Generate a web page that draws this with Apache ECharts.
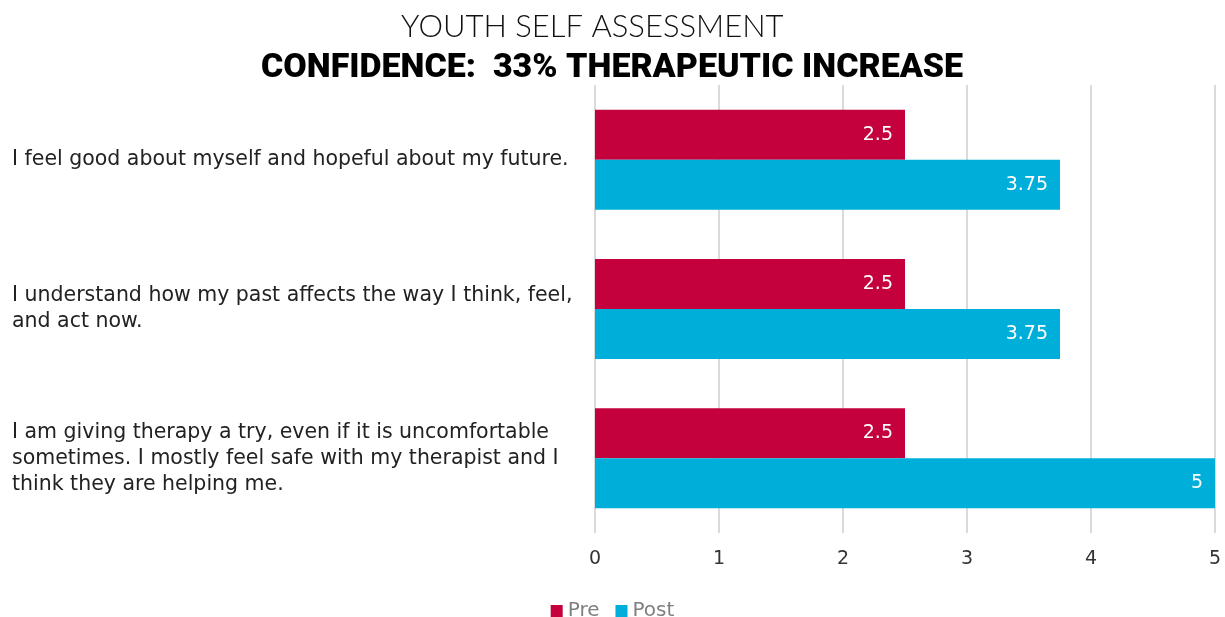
<!DOCTYPE html>
<html>
<head>
<meta charset="utf-8">
<script src="https://cdn.jsdelivr.net/npm/echarts@6/dist/echarts.min.js"></script>
<style>
  html, body { margin: 0; padding: 0; background: #fff; }
  #chart { width: 1225px; height: 617px; }
</style>
</head>
<body>
<div id="chart"></div>
<script>
// statements, top to bottom
const categories = [
  "I feel good about myself and hopeful about my future.",
  "I understand how my past affects the way I think, feel,\nand act now.",
  "I am giving therapy a try, even if it is uncomfortable\nsometimes. I mostly feel safe with my therapist and I\nthink they are helping me."
];
const preValues = [2.5, 2.5, 2.5];
const postValues = [3.75, 3.75, 5];
const xTicks = [0, 1, 2, 3, 4, 5];

const font = "DejaVu Sans";

const chart = echarts.init(document.getElementById("chart"));

const barLabel = {
  show: true,
  position: "insideRight",
  distance: 12,
  color: "#fff",
  fontFamily: font,
  fontSize: 19
};

chart.setOption({
  animation: false,
  title: [
    {
      text: "YOUTH SELF ASSESSMENT",
      left: 396,
      top: 6,
      textStyle: { fontFamily: "Lato", fontWeight: 300, fontSize: 31, color: "#111" }
    },
    {
      text: "CONFIDENCE:  33% THERAPEUTIC INCREASE",
      left: 256,
      top: 46,
      textStyle: { fontFamily: "Roboto", fontWeight: 900, fontSize: 34, color: "#000" }
    }
  ],
  legend: {
    top: 596,
    left: "center",
    icon: "rect",
    itemWidth: 12,
    itemHeight: 12,
    itemGap: 16,
    textStyle: { fontFamily: font, fontSize: 20, color: "#808080" },
    data: ["Pre", "Post"]
  },
  grid: { left: 595, right: 10, top: 85, bottom: 84 },
  xAxis: {
    type: "value",
    min: xTicks[0],
    max: xTicks[xTicks.length - 1],
    interval: 1,
    axisLine: { show: false },
    axisTick: { show: false },
    splitLine: { lineStyle: { color: "#dadada", width: 2 } },
    axisLabel: { margin: 17, fontFamily: font, fontSize: 19, color: "#333" }
  },
  yAxis: {
    type: "category",
    inverse: true,
    data: categories,
    axisLine: { show: false },
    axisTick: { show: false },
    axisLabel: {
      align: "left",
      margin: 583,
      fontFamily: font,
      fontSize: 20.5,
      lineHeight: 26,
      color: "#222"
    }
  },
  series: [
    {
      name: "Pre",
      type: "bar",
      data: preValues,
      itemStyle: { color: "#C4003D" },
      barGap: 0,
      barCategoryGap: "33%",
      label: barLabel
    },
    {
      name: "Post",
      type: "bar",
      data: postValues,
      itemStyle: { color: "#00AEDA" },
      barGap: 0,
      barCategoryGap: "33%",
      label: barLabel
    }
  ]
});
</script>
</body>
</html>
